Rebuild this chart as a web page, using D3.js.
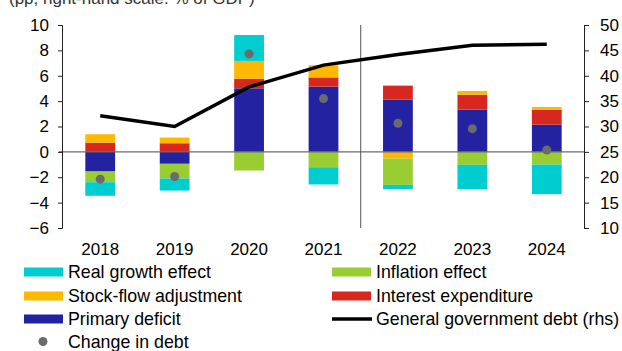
<!DOCTYPE html>
<html>
<head>
<meta charset="utf-8">
<script src="https://cdn.jsdelivr.net/npm/d3@7"></script>
<style>
  html, body { margin: 0; padding: 0; background: #fff; }
  svg { display: block; font-family: "Liberation Sans", Arial, sans-serif; }
</style>
</head>
<body>
<svg id="chart" width="622" height="351"></svg>
<script>
// Debt dynamics components (pp of GDP) and debt level (% of GDP, rhs)
const years = ["2018", "2019", "2020", "2021", "2022", "2023", "2024"];
const primaryDeficit = [-1.55, -0.94, 5.01, 5.14, 4.12, 3.33, 2.15];
const interestExpenditure = [0.73, 0.68, 0.76, 0.73, 1.10, 1.18, 1.18];
const stockFlow = [0.66, 0.45, 1.40, 0.96, -0.53, 0.29, 0.21];
const inflationEffect = [-0.84, -1.16, -1.47, -1.21, -2.07, -1.02, -1.00];
const realGrowthEffect = [-1.07, -0.95, 2.04, -1.36, -0.34, -1.92, -2.33];
const changeInDebt = [-2.15, -1.94, 7.72, 4.20, 2.26, 1.83, 0.15];
const debtLevel = [32.1, 30.0, 37.8, 42.1, 44.2, 46.0, 46.2];

const leftTicks = [-6, -4, -2, 0, 2, 4, 6, 8, 10];
const rightTicks = [10, 15, 20, 25, 30, 35, 40, 45, 50];

const series = [
  { key: "primary", label: "Primary deficit", values: primaryDeficit, color: "#2323a2" },
  { key: "interest", label: "Interest expenditure", values: interestExpenditure, color: "#d7281f" },
  { key: "stockflow", label: "Stock-flow adjustment", values: stockFlow, color: "#ffb800" },
  { key: "inflation", label: "Inflation effect", values: inflationEffect, color: "#9acd32" },
  { key: "growth", label: "Real growth effect", values: realGrowthEffect, color: "#00cdd0" }
];

const svg = d3.select("#chart");
const plotLeft = 63, plotRight = 584, plotTop = 25, plotBottom = 228;
const tickFont = 17, legendFont = 17.8;

const x = d3.scaleBand().domain(years).range([plotLeft, plotRight]).paddingInner(0.6).paddingOuter(0.3);
const y = d3.scaleLinear().domain([-6, 10]).range([plotBottom, plotTop]);
const yR = d3.scaleLinear().domain([10, 50]).range([plotBottom, plotTop]);

// header (runs off the top edge)
svg.append("text").attr("x", 9).attr("y", 4)
  .attr("font-size", 17).attr("fill", "#333")
  .text("(pp; right-hand scale: % of GDP)");

// stacked bars, positives upward and negatives downward
const rows = years.map((yr, i) => {
  const r = { year: yr };
  series.forEach(s => r[s.key] = s.values[i]);
  return r;
});
const stacked = d3.stack().keys(series.map(s => s.key)).offset(d3.stackOffsetDiverging)(rows);

svg.append("g").selectAll("g").data(stacked).join("g")
  .attr("fill", (d, i) => series[i].color)
  .selectAll("rect").data(d => d).join("rect")
  .attr("x", d => x(d.data.year))
  .attr("width", x.bandwidth())
  .attr("y", d => y(Math.max(d[0], d[1])))
  .attr("height", d => Math.abs(y(d[0]) - y(d[1])));

// zero line
svg.append("line")
  .attr("x1", plotLeft - 4).attr("x2", plotRight)
  .attr("y1", y(0)).attr("y2", y(0))
  .attr("stroke", "#6b6b6b").attr("stroke-width", 1.2);

// divider between outturn and forecast years
const step = x.step();
const divX = x("2022") - (step - x.bandwidth()) / 2;
svg.append("line")
  .attr("x1", divX).attr("x2", divX)
  .attr("y1", plotTop).attr("y2", plotBottom)
  .attr("stroke", "#555").attr("stroke-width", 1);

// debt level line
const line = d3.line()
  .x((d, i) => x(years[i]) + x.bandwidth() / 2)
  .y(d => yR(d));
svg.append("path").datum(debtLevel)
  .attr("d", line).attr("fill", "none")
  .attr("stroke", "#000").attr("stroke-width", 3.5);

// change in debt markers
svg.append("g").selectAll("circle").data(changeInDebt).join("circle")
  .attr("cx", (d, i) => x(years[i]) + x.bandwidth() / 2)
  .attr("cy", d => y(d))
  .attr("r", 4.5)
  .attr("fill", "#6b6b6b");

// axes
const gL = svg.append("g").attr("transform", `translate(${plotLeft - 1},0)`)
  .call(d3.axisLeft(y).tickValues(leftTicks).tickSize(4).tickPadding(9).tickSizeOuter(4));
const gR = svg.append("g").attr("transform", `translate(${plotRight},0)`)
  .call(d3.axisRight(yR).tickValues(rightTicks).tickSize(5).tickPadding(11).tickSizeOuter(5));
[gL, gR].forEach(g => {
  g.selectAll("text").attr("font-size", tickFont).attr("fill", "#000")
    .attr("font-family", "'Liberation Sans', Arial, sans-serif");
  g.selectAll("line,path").attr("stroke", "#222");
});

// category labels
svg.append("g").selectAll("text").data(years).join("text")
  .attr("x", d => x(d) + x.bandwidth() / 2)
  .attr("y", 255)
  .attr("text-anchor", "middle")
  .attr("font-size", tickFont)
  .text(d => d);

// legend
const legendItems = [
  { label: "Real growth effect", type: "rect", color: "#00cdd0", col: 0, row: 0 },
  { label: "Inflation effect", type: "rect", color: "#9acd32", col: 1, row: 0 },
  { label: "Stock-flow adjustment", type: "rect", color: "#ffb800", col: 0, row: 1 },
  { label: "Interest expenditure", type: "rect", color: "#d7281f", col: 1, row: 1 },
  { label: "Primary deficit", type: "rect", color: "#2323a2", col: 0, row: 2 },
  { label: "General government debt (rhs)", type: "line", color: "#000", col: 1, row: 2 },
  { label: "Change in debt", type: "dot", color: "#6b6b6b", col: 0, row: 3 }
];
const colX = [24, 332], rowY = [272, 296, 319, 341.5];
const lg = svg.append("g").selectAll("g").data(legendItems).join("g")
  .attr("transform", d => `translate(${colX[d.col]},${rowY[d.row]})`);
lg.filter(d => d.type === "rect").append("rect")
  .attr("x", 0).attr("y", -4.5).attr("width", 39).attr("height", 9).attr("fill", d => d.color);
lg.filter(d => d.type === "line").append("line")
  .attr("x1", 0).attr("x2", 40).attr("y1", 0).attr("y2", 0)
  .attr("stroke", d => d.color).attr("stroke-width", 3.5);
lg.filter(d => d.type === "dot").append("circle")
  .attr("cx", 19).attr("cy", 0).attr("r", 4.5).attr("fill", d => d.color);
lg.append("text")
  .attr("x", 44).attr("y", 0).attr("dy", "0.35em")
  .attr("font-size", legendFont)
  .text(d => d.label);
</script>
</body>
</html>
